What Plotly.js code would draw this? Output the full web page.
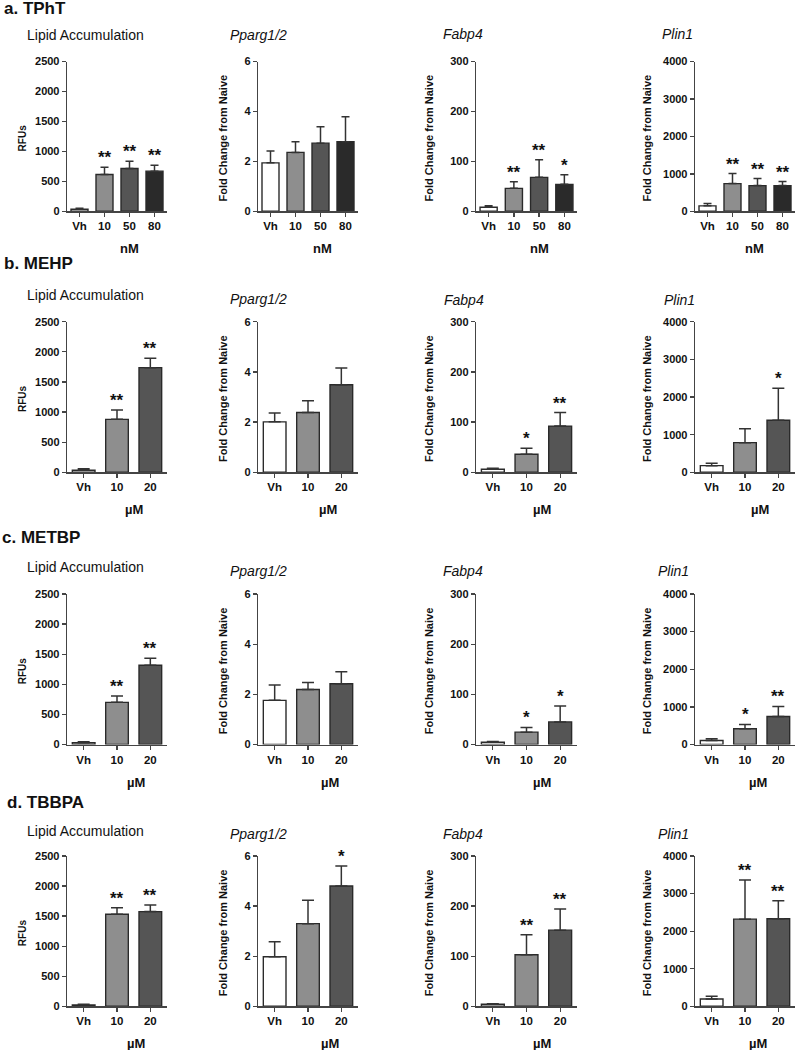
<!DOCTYPE html>
<html>
<head>
<meta charset="utf-8">
<script src="https://cdn.plot.ly/plotly-3.0.1.min.js"></script>
<style>
html,body{margin:0;padding:0;background:#fff;}
#chart{width:795px;height:1050px;}
</style>
</head>
<body>
<div id="chart"></div>
<script>
// ---------- DATA ----------
const panelLabels = ['a. TPhT', 'b. MEHP', 'c. METBP', 'd. TBBPA'];
const panelUnits = ['nM', '\u00b5M', '\u00b5M', '\u00b5M'];
const dosesNM = ['Vh', '10', '50', '80'];
const dosesUM = ['Vh', '10', '20'];
const measureTitles = ['Lipid Accumulation', '<i>Pparg1/2</i>', '<i>Fabp4</i>', '<i>Plin1</i>'];
const measureYTitles = ['RFUs', 'Fold Change from Naive', 'Fold Change from Naive', 'Fold Change from Naive'];
const measureYMax = [2500, 6, 300, 4000];
const measureYTicks = [[0, 500, 1000, 1500, 2000, 2500], [0, 2, 4, 6], [0, 100, 200, 300], [0, 1000, 2000, 3000, 4000]];

// a. TPhT (nM)
const lipidTPhT = [35, 615, 715, 670];
const lipidTPhTErr = [15, 120, 120, 100];
const lipidTPhTSig = ['', '**', '**', '**'];
const ppargTPhT = [1.94, 2.36, 2.73, 2.79];
const ppargTPhTErr = [0.48, 0.43, 0.66, 1.0];
const ppargTPhTSig = ['', '', '', ''];
const fabp4TPhT = [8, 46, 68, 54];
const fabp4TPhTErr = [3, 13, 35, 19];
const fabp4TPhTSig = ['', '**', '**', '*'];
const plin1TPhT = [145, 739, 686, 686];
const plin1TPhTErr = [65, 268, 187, 107];
const plin1TPhTSig = ['', '**', '**', '**'];

// b. MEHP (uM)
const lipidMEHP = [35, 879, 1737];
const lipidMEHPErr = [22, 155, 155];
const lipidMEHPSig = ['', '**', '**'];
const ppargMEHP = [2.01, 2.38, 3.49];
const ppargMEHPErr = [0.35, 0.47, 0.67];
const ppargMEHPSig = ['', '', ''];
const fabp4MEHP = [6, 36, 92];
const fabp4MEHPErr = [2, 12, 27];
const fabp4MEHPSig = ['', '*', '**'];
const plin1MEHP = [177, 788, 1381];
const plin1MEHPErr = [62, 371, 849];
const plin1MEHPSig = ['', '', '*'];

// c. METBP (uM)
const lipidMETBP = [28, 700, 1317];
const lipidMETBPErr = [16, 106, 116];
const lipidMETBPSig = ['', '**', '**'];
const ppargMETBP = [1.76, 2.19, 2.42];
const ppargMETBPErr = [0.61, 0.28, 0.48];
const ppargMETBPSig = ['', '', ''];
const fabp4METBP = [4.6, 24.6, 45];
const fabp4METBPErr = [1.4, 9.4, 31.5];
const fabp4METBPSig = ['', '*', '*'];
const plin1METBP = [106, 417, 745];
const plin1METBPErr = [45, 115, 266];
const plin1METBPSig = ['', '*', '**'];

// d. TBBPA (uM)
const lipidTBBPA = [22, 1530, 1575];
const lipidTBBPAErr = [11, 111, 111];
const lipidTBBPASig = ['', '**', '**'];
const ppargTBBPA = [1.98, 3.30, 4.80];
const ppargTBBPAErr = [0.60, 0.93, 0.80];
const ppargTBBPASig = ['', '', '*'];
const fabp4TBBPA = [4, 103, 152];
const fabp4TBBPAErr = [1.3, 40, 42];
const fabp4TBBPASig = ['', '**', '**'];
const plin1TBBPA = [196, 2320, 2329];
const plin1TBBPAErr = [71, 1040, 480];
const plin1TBBPASig = ['', '**', '**'];

// ---------- ASSEMBLY ----------
const rowsData = [
  {doses: dosesNM, vals: [lipidTPhT, ppargTPhT, fabp4TPhT, plin1TPhT], errs: [lipidTPhTErr, ppargTPhTErr, fabp4TPhTErr, plin1TPhTErr], sig: [lipidTPhTSig, ppargTPhTSig, fabp4TPhTSig, plin1TPhTSig]},
  {doses: dosesUM, vals: [lipidMEHP, ppargMEHP, fabp4MEHP, plin1MEHP], errs: [lipidMEHPErr, ppargMEHPErr, fabp4MEHPErr, plin1MEHPErr], sig: [lipidMEHPSig, ppargMEHPSig, fabp4MEHPSig, plin1MEHPSig]},
  {doses: dosesUM, vals: [lipidMETBP, ppargMETBP, fabp4METBP, plin1METBP], errs: [lipidMETBPErr, ppargMETBPErr, fabp4METBPErr, plin1METBPErr], sig: [lipidMETBPSig, ppargMETBPSig, fabp4METBPSig, plin1METBPSig]},
  {doses: dosesUM, vals: [lipidTBBPA, ppargTBBPA, fabp4TBBPA, plin1TBBPA], errs: [lipidTBBPAErr, ppargTBBPAErr, fabp4TBBPAErr, plin1TBBPAErr], sig: [lipidTBBPASig, ppargTBBPASig, fabp4TBBPASig, plin1TBBPASig]}
];

const W = 795, H = 1050;
const FONT = 'Liberation Sans, Arial, Helvetica, sans-serif';
const colors4 = ['#ffffff', '#8e8e8e', '#555555', '#2a2a2a'];
const colors3 = ['#ffffff', '#8e8e8e', '#555555'];
const colDom = [[67, 167], [258, 358], [476, 577], [695, 795]];
const rowDom = [[61.5, 211.3], [321.7, 472.3], [594, 744.5], [856, 1006.3]];
const panelLabelPos = [[2, 8], [2, 263], [0, 537], [5, 802]];
const titleX = [[25, 228, 441, 660], [25, 228, 442, 662], [25, 228, 441, 656], [25, 228, 441, 656]];
const titleY = [[35, 35, 34, 34], [295, 299, 300, 300], [567, 571, 571, 571], [831, 834, 834, 834]];
const unitX = [[129, 322, 539, 754], [134, 328, 542, 760], [136, 330, 542, 758], [136, 330, 542, 758]];
const yTitleX = [22, 223, 429, 647];

const px = p => p / W;
const py = p => 1 - p / H;

const traces = [];
const layout = {
  width: W, height: H,
  margin: {l: 0, r: 0, t: 0, b: 0},
  paper_bgcolor: '#ffffff',
  plot_bgcolor: 'rgba(0,0,0,0)',
  showlegend: false,
  font: {family: FONT, color: '#111111'},
  annotations: []
};

rowsData.forEach((row, r) => {
  const n = row.doses.length;
  layout.annotations.push({
    xref: 'paper', yref: 'paper', x: px(panelLabelPos[r][0]), y: py(panelLabelPos[r][1]),
    xanchor: 'left', yanchor: 'middle', showarrow: false, text: panelLabels[r],
    font: {family: FONT, size: 17, weight: 'bold', color: '#111'}
  });
  for (let c = 0; c < 4; c++) {
    const idx = r * 4 + c + 1;
    const xa = 'x' + idx, ya = 'y' + idx;
    traces.push({
      type: 'bar', x: row.doses, y: row.vals[c], xaxis: xa, yaxis: ya,
      width: 0.68,
      marker: {color: n === 4 ? colors4 : colors3, line: {color: '#2a2a2a', width: 1.4}},
      error_y: {type: 'data', symmetric: false, array: row.errs[c], arrayminus: row.vals[c].map(() => 0),
        color: '#333333', thickness: 1.5, width: n === 4 ? 4 : 6},
      hoverinfo: 'skip', showlegend: false, cliponaxis: false
    });
    layout['xaxis' + idx] = {
      domain: [px(colDom[c][0]), px(colDom[c][1])], anchor: ya, type: 'category',
      range: [-0.5, n - 0.5], showline: true, linecolor: '#444', linewidth: 1.3,
      ticks: 'outside', ticklen: 4, tickcolor: '#444', tickwidth: 1.3,
      tickfont: {family: FONT, size: 11.5, weight: 'bold', color: '#111'},
      showgrid: false, zeroline: false, fixedrange: true
    };
    layout['yaxis' + idx] = {
      domain: [py(rowDom[r][1]), py(rowDom[r][0])], anchor: xa,
      range: [0, measureYMax[c]], tickmode: 'array', tickvals: measureYTicks[c],
      showline: true, linecolor: '#444', linewidth: 1.3,
      ticks: 'outside', ticklen: 4, tickcolor: '#444', tickwidth: 1.3,
      tickfont: {family: FONT, size: 11, weight: 'bold', color: '#111'},
      showgrid: false, zeroline: false, fixedrange: true
    };
    layout.annotations.push({
      xref: 'paper', yref: 'paper', x: px(titleX[r][c]), y: py(titleY[r][c]),
      xanchor: 'left', yanchor: 'middle', showarrow: false, text: measureTitles[c],
      font: {family: FONT, size: 14, color: '#111'}
    });
    layout.annotations.push({
      xref: 'paper', yref: 'paper', x: px(unitX[r][c]), y: py(rowDom[r][1] + 37.5),
      xanchor: 'center', yanchor: 'middle', showarrow: false, text: panelUnits[r],
      font: {family: FONT, size: 13, weight: 'bold', color: '#111'}
    });
    layout.annotations.push({
      xref: 'paper', yref: 'paper', x: px(yTitleX[c]), y: py((rowDom[r][0] + rowDom[r][1]) / 2 + 2),
      xanchor: 'center', yanchor: 'middle', showarrow: false, textangle: -90, text: measureYTitles[c],
      font: {family: FONT, size: c === 0 ? 10 : 11, weight: 'bold', color: '#111'}
    });
    row.sig[c].forEach((s, i) => {
      if (!s) return;
      layout.annotations.push({
        xref: xa, yref: ya, x: i, y: row.vals[c][i] + row.errs[c][i],
        xanchor: 'center', yanchor: 'bottom', yshift: -2, showarrow: false, text: s,
        font: {family: FONT, size: 17, weight: 'bold', color: '#111'}
      });
    });
  }
});

Plotly.newPlot('chart', traces, layout, {staticPlot: true, displayModeBar: false});
</script>
</body>
</html>
